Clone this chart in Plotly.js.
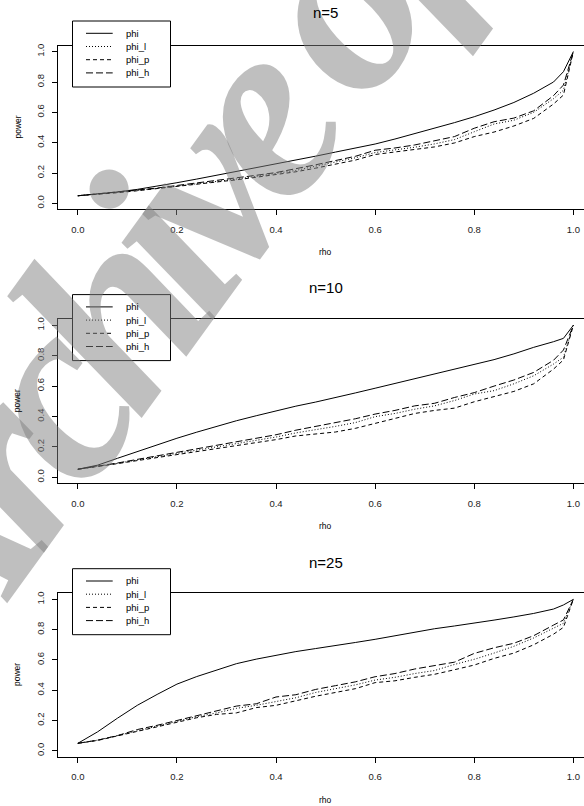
<!DOCTYPE html>
<html><head><meta charset="utf-8">
<script src="https://cdn.plot.ly/plotly-3.0.1.min.js"></script>
<style>html,body{margin:0;padding:0;background:#fff}#chart{width:584px;height:806px}</style>
</head><body><div id="chart"></div>
<script>
// ---- data ----
const rho = [0,0.04,0.08,0.12,0.16,0.2,0.24,0.28,0.32,0.36,0.4,0.44,0.48,0.52,0.56,0.6,0.64,0.68,0.72,0.76,0.8,0.84,0.88,0.92,0.96,0.98,1.0];

const n5_phi   = [0.050,0.062,0.075,0.092,0.113,0.136,0.160,0.185,0.210,0.233,0.258,0.284,0.311,0.338,0.364,0.391,0.424,0.459,0.495,0.532,0.571,0.615,0.665,0.726,0.800,0.868,1.000];
const n5_phi_l = [0.050,0.060,0.071,0.085,0.098,0.113,0.128,0.146,0.160,0.178,0.196,0.217,0.245,0.272,0.300,0.335,0.352,0.370,0.392,0.420,0.472,0.523,0.548,0.600,0.690,0.746,1.000];
const n5_phi_p = [0.050,0.059,0.070,0.083,0.097,0.110,0.126,0.140,0.155,0.172,0.188,0.208,0.232,0.258,0.285,0.322,0.338,0.352,0.372,0.398,0.440,0.470,0.510,0.560,0.655,0.714,1.000];
const n5_phi_h = [0.050,0.061,0.073,0.088,0.101,0.117,0.133,0.150,0.166,0.185,0.203,0.226,0.254,0.282,0.310,0.350,0.365,0.385,0.410,0.440,0.495,0.538,0.562,0.610,0.710,0.780,1.000];

const n10_phi   = [0.053,0.080,0.125,0.170,0.214,0.257,0.297,0.336,0.372,0.405,0.438,0.468,0.495,0.523,0.555,0.586,0.617,0.647,0.677,0.708,0.739,0.774,0.812,0.855,0.892,0.914,1.000];
const n10_phi_l = [0.053,0.071,0.092,0.114,0.136,0.158,0.178,0.198,0.220,0.242,0.265,0.292,0.312,0.335,0.360,0.399,0.420,0.448,0.470,0.505,0.548,0.570,0.615,0.668,0.745,0.790,1.000];
const n10_phi_p = [0.053,0.070,0.090,0.110,0.130,0.150,0.168,0.188,0.205,0.226,0.248,0.272,0.285,0.298,0.322,0.355,0.385,0.420,0.440,0.455,0.497,0.530,0.565,0.615,0.712,0.772,1.000];
const n10_phi_h = [0.053,0.072,0.094,0.118,0.141,0.165,0.186,0.207,0.232,0.255,0.280,0.310,0.335,0.360,0.385,0.416,0.440,0.470,0.487,0.525,0.557,0.600,0.640,0.690,0.770,0.837,1.000];

const n25_phi   = [0.049,0.125,0.215,0.300,0.372,0.440,0.490,0.535,0.575,0.605,0.632,0.655,0.675,0.693,0.715,0.736,0.760,0.785,0.806,0.824,0.842,0.863,0.884,0.907,0.936,0.963,1.000];
const n25_phi_l = [0.049,0.070,0.100,0.130,0.160,0.195,0.225,0.250,0.280,0.300,0.325,0.350,0.385,0.410,0.435,0.467,0.485,0.510,0.530,0.570,0.604,0.645,0.690,0.745,0.810,0.842,1.000];
const n25_phi_p = [0.049,0.068,0.098,0.128,0.158,0.190,0.218,0.240,0.250,0.285,0.300,0.330,0.360,0.385,0.410,0.450,0.462,0.485,0.505,0.535,0.566,0.610,0.645,0.700,0.770,0.815,1.000];
const n25_phi_h = [0.049,0.070,0.100,0.140,0.168,0.200,0.228,0.260,0.295,0.310,0.355,0.370,0.405,0.430,0.455,0.489,0.510,0.540,0.565,0.585,0.643,0.680,0.710,0.760,0.830,0.864,1.000];

const panelTitles = ["n=5","n=10","n=25"];
const seriesNames = ["phi","phi_l","phi_p","phi_h"];
const tickVals = [0,0.2,0.4,0.6,0.8,1.0];
const tickText = ["0.0","0.2","0.4","0.6","0.8","1.0"];
const xLabel = "rho";
const yLabel = "power";
const watermark = "Archive of SID";

// ---- layout helpers ----
const W = 584, H = 806, ML = 58;
const px = v => (v - ML) / (W - ML);
const py = v => 1 - v / H;
const FONT = "Liberation Sans, Arial, Helvetica, sans-serif";
const dashes = ["solid", "1px,2px", "4px,3px", "7px,3px"];
const panels = [{top:45.6,bottom:209.4},{top:319.2,bottom:483.4},{top:593.3,bottom:756.8}];
const titleY = [12.5, 287, 562];
const seriesByPanel = [
  [n5_phi, n5_phi_l, n5_phi_p, n5_phi_h],
  [n10_phi, n10_phi_l, n10_phi_p, n10_phi_h],
  [n25_phi, n25_phi_l, n25_phi_p, n25_phi_h]
];

const data = [];
const layout = {
  width: W, height: H,
  margin: {l: ML, r: 0, t: 0, b: 0, pad: 0},
  paper_bgcolor: "#ffffff", plot_bgcolor: "rgba(0,0,0,0)",
  showlegend: false,
  font: {family: FONT, color: "#000", size: 9.5},
  shapes: [], annotations: []
};

// watermark (drawn first among annotations)
layout.annotations.push({
  xref: "paper", yref: "paper", x: px(256), y: py(111),
  text: '<span style="letter-spacing:-25px">' + watermark + '</span>',
  showarrow: false, xanchor: "center", yanchor: "middle", textangle: -54,
  font: {family: "Liberation Serif, Times New Roman, serif", size: 260, weight: "bold", style: "italic", color: "rgba(128,128,128,0.5)"}
});

panels.forEach((p, k) => {
  const sfx = k === 0 ? "" : String(k + 1);
  seriesByPanel[k].forEach((ys, i) => {
    data.push({
      x: rho, y: ys, type: "scatter", mode: "lines",
      name: seriesNames[i],
      xaxis: "x" + sfx, yaxis: "y" + sfx,
      line: {color: "#000", width: 1, dash: dashes[i]},
      hoverinfo: "skip"
    });
  });
  layout["xaxis" + sfx] = {
    domain: [0, 1], anchor: "y" + sfx, range: [-0.04, 1.0215],
    showgrid: false, zeroline: false, showline: true, mirror: true,
    linecolor: "#000", linewidth: 1,
    ticks: "outside", ticklen: 5, tickwidth: 1, tickcolor: "#000",
    tickvals: tickVals, ticktext: tickText,
    tickfont: {family: FONT, size: 9.5, color: "#222"},
    ticklabelstandoff: 6
  };
  layout["yaxis" + sfx] = {
    domain: [py(p.bottom), py(p.top)], anchor: "x" + sfx, range: [-0.04, 1.04],
    showgrid: false, zeroline: false, showline: true, mirror: false,
    linecolor: "#000", linewidth: 1,
    ticks: "outside", ticklen: 5, tickwidth: 1, tickcolor: "#000",
    tickvals: tickVals, ticktext: tickText, tickangle: -90,
    tickfont: {family: FONT, size: 9.5, color: "#222"},
    ticklabelstandoff: 4
  };
  layout.annotations.push({
    xref: "paper", yref: "paper", x: px(325.5), y: py(titleY[k]),
    text: panelTitles[k], showarrow: false, xanchor: "center", yanchor: "middle",
    font: {family: FONT, size: 15, color: "#000"}
  });
  layout.annotations.push({
    xref: "paper", yref: "paper", x: px(325.5), y: py(p.bottom + 43),
    text: xLabel, showarrow: false, xanchor: "center", yanchor: "middle",
    font: {family: FONT, size: 8.5, color: "#000"}
  });
  layout.annotations.push({
    xref: "paper", yref: "paper", x: px(17), y: py((p.top + p.bottom) / 2),
    text: yLabel, showarrow: false, xanchor: "center", yanchor: "middle", textangle: -90,
    font: {family: FONT, size: 8.5, color: "#000"}
  });
  const bt = p.top - 24.6, bb = p.top + 41.4;
  layout.shapes.push({
    type: "rect", xref: "paper", yref: "paper", layer: "above",
    x0: px(72.5), x1: px(170.5), y0: py(bb), y1: py(bt),
    fillcolor: "#fff", line: {color: "#000", width: 1}
  });
  seriesNames.forEach((nm, i) => {
    const yy = bt + 12.3 + i * 13.2;
    layout.shapes.push({
      type: "line", xref: "paper", yref: "paper", layer: "above",
      x0: px(86), x1: px(112.7), y0: py(yy), y1: py(yy),
      line: {color: "#000", width: 1, dash: dashes[i]}
    });
    layout.annotations.push({
      xref: "paper", yref: "paper", x: px(124), y: py(yy),
      text: nm, showarrow: false, xanchor: "left", yanchor: "middle",
      font: {family: FONT, size: 9.5, color: "#000"}
    });
  });
});

Plotly.newPlot("chart", data, layout, {staticPlot: true, displayModeBar: false});
</script>
</body></html>
